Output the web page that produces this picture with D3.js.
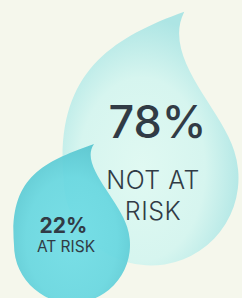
<!DOCTYPE html>
<html><head><meta charset="utf-8">
<script src="https://cdn.jsdelivr.net/npm/d3@7"></script>
<style>html,body{margin:0;padding:0;background:#f5f7ec;overflow:hidden}</style>
</head><body><svg id="c" width="242" height="298"></svg>
<script>
const categories = ["AT RISK", "NOT AT RISK"];
const values = [22, 78];
const pctLabels = ["22%", "78%"];
const nameLines = [["AT RISK"], ["NOT AT", "RISK"]];

const W = 242, H = 298;
const svg = d3.select("#c");
svg.append("rect").attr("width", W).attr("height", H).attr("fill", "#f5f7ec");

const x = d3.scalePoint().domain(categories).range([72, 151]);
const y = d3.scalePoint().domain(categories).range([245, 178]);
const r = d3.scaleLinear().domain([22, 78]).range([58, 87.5]);
const tail = {"AT RISK": 1.74, "NOT AT RISK": 1.9};

const defs = svg.append("defs");
const gBig = defs.append("radialGradient").attr("id", "gBig").attr("cx", "45%").attr("cy", "62%").attr("r", "60%");
gBig.append("stop").attr("offset", "0%").attr("stop-color", "#e0f9f2");
gBig.append("stop").attr("offset", "60%").attr("stop-color", "#d6f5ef");
gBig.append("stop").attr("offset", "100%").attr("stop-color", "#ade5e4");
const gSmall = defs.append("radialGradient").attr("id", "gSmall").attr("cx", "50%").attr("cy", "60%").attr("r", "60%");
gSmall.append("stop").attr("offset", "0%").attr("stop-color", "#70dde6");
gSmall.append("stop").attr("offset", "65%").attr("stop-color", "#68d7e0");
gSmall.append("stop").attr("offset", "100%").attr("stop-color", "#59c6d0");

function dropPath(cx, cy, R, tl) {
  const p = d3.path();
  const P = (u, v) => [cx + u * R, cy + v * R];
  const T = P(0.38, -tl);
  p.moveTo(...T);
  p.bezierCurveTo(...P(-0.45, -tl + 0.3), ...P(-1.1, -1.2), ...P(-1, 0));
  p.arc(cx, cy, R, Math.PI, -18 * Math.PI / 180, true);
  p.bezierCurveTo(...P(0.8, -0.8), ...P(0.12, -1.38), ...T);
  p.closePath();
  return p.toString();
}

const data = categories.map((c, i) => ({c, v: values[i], pct: pctLabels[i], lines: nameLines[i]}));
const order = data.slice().sort((a, b) => b.v - a.v);

svg.selectAll("path.drop").data(order).join("path")
  .attr("class", "drop")
  .attr("d", d => dropPath(x(d.c), y(d.c), r(d.v), tail[d.c]))
  .attr("fill", d => d.v > 50 ? "url(#gBig)" : "url(#gSmall)")
  .attr("opacity", d => d.v > 50 ? 1 : 0.93);

const font = "Inter, 'Open Sans', sans-serif";
const txt = "#313b45";
const big = data[1], small = data[0];
svg.append("text").attr("x", x(big.c) + 6.5).attr("y", y(big.c) - 40)
  .attr("text-anchor", "middle").attr("font-family", font).attr("font-weight", 500)
  .attr("font-size", 45).attr("fill", txt).text(big.pct);
big.lines.forEach((l, i) => {
  svg.append("text").attr("x", x(big.c) + 2).attr("y", y(big.c) + 11 + i * 31)
    .attr("text-anchor", "middle").attr("font-family", font).attr("font-weight", 300)
    .attr("font-size", 25).attr("letter-spacing", 0.5).attr("fill", txt).text(l);
});
svg.append("text").attr("x", x(small.c) - 8.5).attr("y", y(small.c) - 12)
  .attr("text-anchor", "middle").attr("font-family", font).attr("font-weight", 700)
  .attr("font-size", 21).attr("fill", txt).text(small.pct);
small.lines.forEach((l, i) => {
  svg.append("text").attr("x", x(small.c) - 6).attr("y", y(small.c) + 7 + i * 18)
    .attr("text-anchor", "middle").attr("font-family", font).attr("font-weight", 400)
    .attr("font-size", 15.5).attr("fill", txt).text(l);
});
</script></body></html>
